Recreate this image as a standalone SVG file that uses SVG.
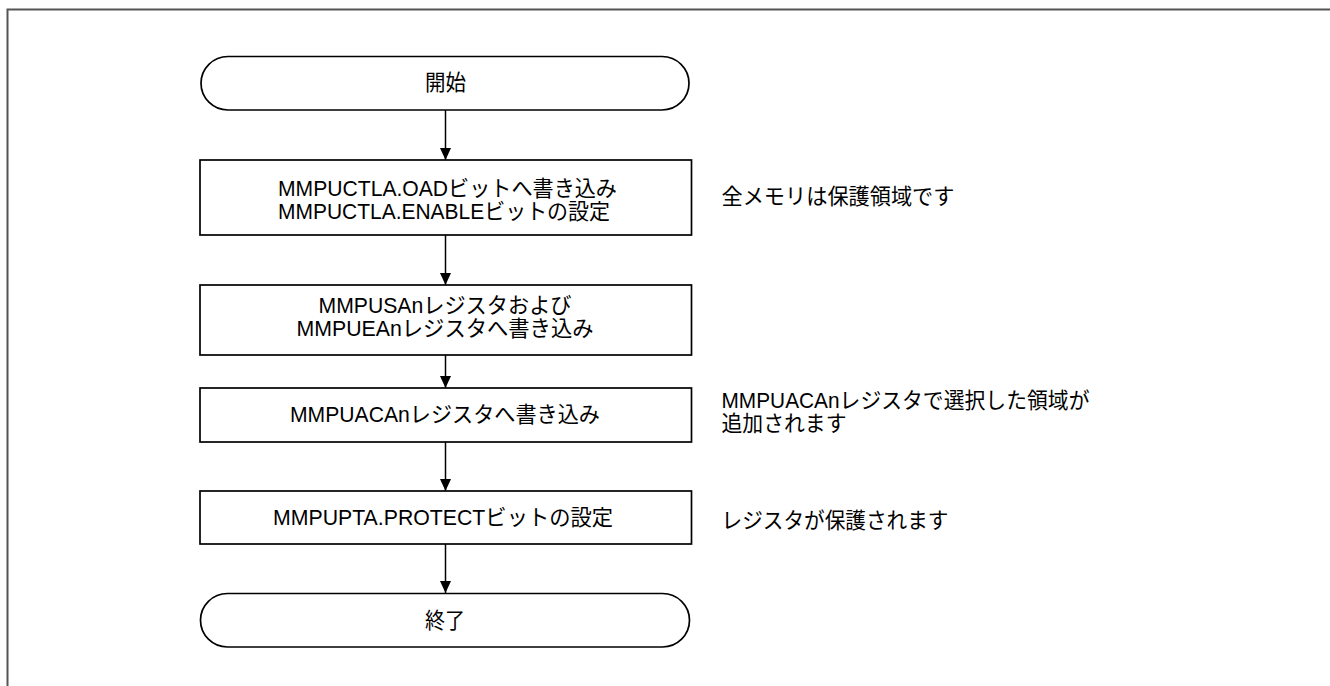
<svg xmlns="http://www.w3.org/2000/svg" width="1330" height="686" viewBox="0 0 1330 686">
<defs>
<style>
.frame{fill:none;stroke:#555555;stroke-width:2}
.shape{fill:#ffffff;stroke:#000000;stroke-width:1.7}
.conn{fill:none;stroke:#000000;stroke-width:1.5}
.t{font-family:"Liberation Sans","Noto Sans CJK JP",sans-serif;font-size:22px;fill:#000000}
.c{text-anchor:middle}
</style>
<marker id="arr" viewBox="0 0 12 12" refX="12" refY="6" markerWidth="12" markerHeight="12" markerUnits="userSpaceOnUse" orient="auto">
<path d="M0,0.5 L12,6 L0,11.5 Z" fill="#000000"/>
</marker>
</defs>
<rect width="1330" height="686" fill="#ffffff"/>
<path class="frame" d="M7.5,686 L7.5,9.5 L1330,9.5"/>
<g id="connectors">
<line class="conn" x1="445.5" y1="110" x2="445.5" y2="160" marker-end="url(#arr)"/>
<line class="conn" x1="445.5" y1="235" x2="445.5" y2="285" marker-end="url(#arr)"/>
<line class="conn" x1="445.5" y1="355" x2="445.5" y2="388" marker-end="url(#arr)"/>
<line class="conn" x1="445.5" y1="442" x2="445.5" y2="491" marker-end="url(#arr)"/>
<line class="conn" x1="445.5" y1="544" x2="445.5" y2="593" marker-end="url(#arr)"/>
</g>
<g id="start">
<rect class="shape" x="201" y="56.5" width="488" height="53.5" rx="27" ry="26.75"/>
<text class="t c" x="445.5" y="89.5" textLength="41" lengthAdjust="spacingAndGlyphs">開始</text>
</g>
<g id="step1">
<rect class="shape" x="200" y="160" width="491.5" height="75"/>
<text class="t c" x="447.5" y="196" textLength="339" lengthAdjust="spacingAndGlyphs">MMPUCTLA.OADビットへ書き込み</text>
<text class="t c" x="444" y="218.8" textLength="332" lengthAdjust="spacingAndGlyphs">MMPUCTLA.ENABLEビットの設定</text>
</g>
<g id="step2">
<rect class="shape" x="200" y="285" width="491.5" height="70"/>
<text class="t c" x="445" y="313.3" textLength="253" lengthAdjust="spacingAndGlyphs">MMPUSAnレジスタおよび</text>
<text class="t c" x="445" y="336.3" textLength="297" lengthAdjust="spacingAndGlyphs">MMPUEAnレジスタへ書き込み</text>
</g>
<g id="step3">
<rect class="shape" x="200" y="388" width="491.5" height="54"/>
<text class="t c" x="445" y="421.7" textLength="310" lengthAdjust="spacingAndGlyphs">MMPUACAnレジスタへ書き込み</text>
</g>
<g id="step4">
<rect class="shape" x="200" y="491" width="491.5" height="53"/>
<text class="t c" x="443" y="525" textLength="340" lengthAdjust="spacingAndGlyphs">MMPUPTA.PROTECTビットの設定</text>
</g>
<g id="end">
<rect class="shape" x="200.5" y="593.5" width="489" height="53.5" rx="27" ry="26.75"/>
<text class="t c" x="445" y="627.5" textLength="40" lengthAdjust="spacingAndGlyphs">終了</text>
</g>
<g id="note1">
<text class="t" x="721.5" y="204" textLength="233" lengthAdjust="spacingAndGlyphs">全メモリは保護領域です</text>
</g>
<g id="note3">
<text class="t" x="721.5" y="408" textLength="368" lengthAdjust="spacingAndGlyphs">MMPUACAnレジスタで選択した領域が</text>
<text class="t" x="721.5" y="430.8" textLength="125" lengthAdjust="spacingAndGlyphs">追加されます</text>
</g>
<g id="note4">
<text class="t" x="721.5" y="527.5" textLength="227" lengthAdjust="spacingAndGlyphs">レジスタが保護されます</text>
</g>
</svg>
